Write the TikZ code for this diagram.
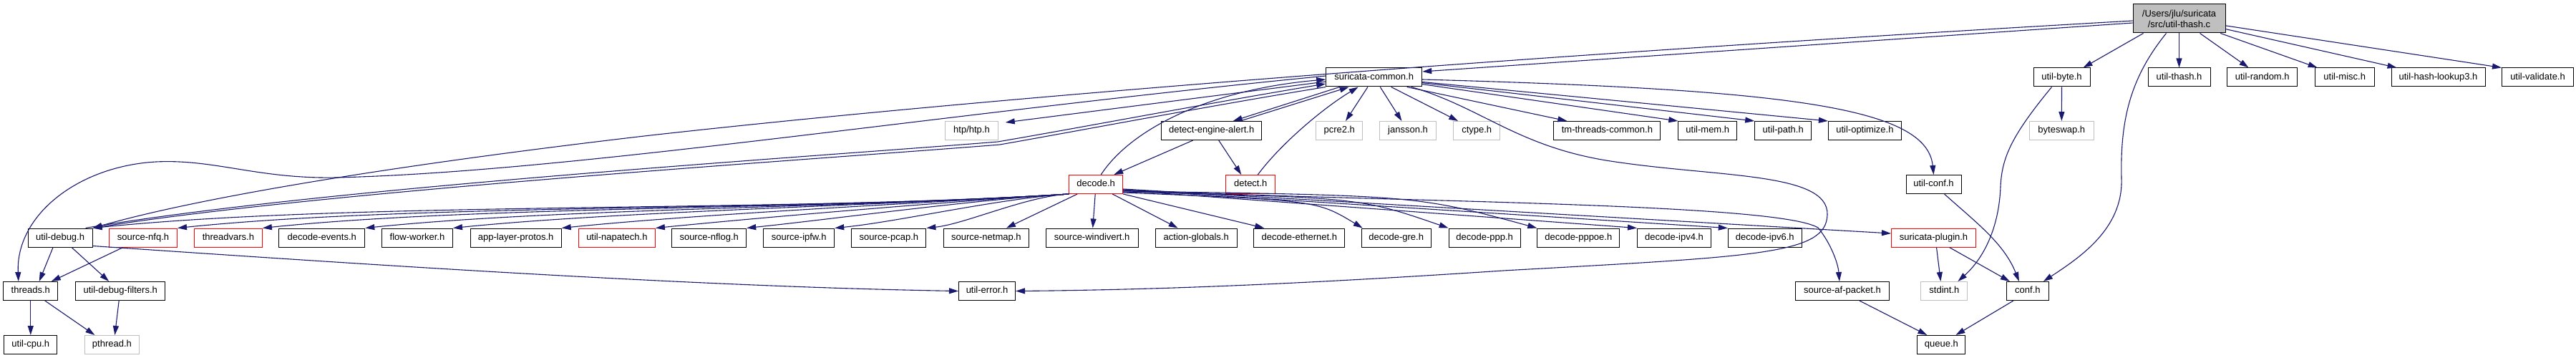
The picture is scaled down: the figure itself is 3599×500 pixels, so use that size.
\documentclass[tikz,border=0pt]{standalone}
\usepackage{fontspec}
\setmainfont{Liberation Sans}
\usetikzlibrary{arrows.meta}
\definecolor{edgeblue}{HTML}{191970}
\definecolor{rootgray}{HTML}{BFBFBF}
\definecolor{sysgray}{HTML}{BFBFBF}
\definecolor{truncred}{HTML}{FF0000}
\begin{document}
\begin{tikzpicture}[x=1pt,y=-1pt,
  box/.style={draw=black, line width=1pt, rectangle, inner sep=0pt, minimum height=26pt,
    font=\fontsize{13}{16}\selectfont, text height=9.4pt, text depth=2.6pt},
  graybox/.style={box, draw=sysgray},
  redbox/.style={box, draw=truncred},
  rootbox/.style={draw=black, fill=rootgray, line width=1pt, rectangle, inner sep=0pt,
    minimum width=129pt, minimum height=40pt, align=center, font=\fontsize{13}{15}\selectfont},
  edge/.style={draw=edgeblue, line width=1.1pt, -{Triangle[length=13pt,width=8pt]}},
]
\fill[white] (0,0) rectangle (3599,500);
\useasboundingbox (0,0) rectangle (3599,500);

% row 1
\node[rootbox] (root) at (3044.5,26) {/Users/jlu/suricata\\/src/util-thash.c};
% row 2
\node[box, minimum width=79pt] (ubyte) at (2880.5,108) {util-byte.h};
\node[box, minimum width=87pt] (uthash) at (3044.5,108) {util-thash.h};
\node[box, minimum width=98pt] (urandom) at (3160.7,108) {util-random.h};
\node[box, minimum width=83pt] (umisc) at (3275.7,108) {util-misc.h};
\node[box, minimum width=131pt] (uhash) at (3406.5,108) {util-hash-lookup3.h};
\node[box, minimum width=100pt] (uvalid) at (3545.5,108) {util-validate.h};
\node[box, minimum width=134pt] (scommon) at (1919.7,108) {suricata-common.h};
% row 3
\node[graybox, minimum width=73.5pt] (htp) at (1357.5,182.5) {htp/htp.h};
\node[box, minimum width=140pt] (dea) at (1692.7,182.5) {detect-engine-alert.h};
\node[graybox, minimum width=65pt] (pcre2) at (1871.2,182.5) {pcre2.h};
\node[graybox, minimum width=79pt] (jansson) at (1967,182.5) {jansson.h};
\node[graybox, minimum width=65pt] (ctype) at (2063.2,182.5) {ctype.h};
\node[box, minimum width=149pt] (tmthreads) at (2245.4,182.5) {tm-threads-common.h};
\node[box, minimum width=82pt] (umem) at (2385.8,182.5) {util-mem.h};
\node[box, minimum width=79pt] (upath) at (2491.2,182.5) {util-path.h};
\node[box, minimum width=102pt] (uopt) at (2605.4,182.5) {util-optimize.h};
\node[graybox, minimum width=89.5pt] (byteswap) at (2880.3,182.5) {byteswap.h};
% row 4
\node[redbox, minimum width=75pt] (decode) at (1531.2,257.5) {decode.h};
\node[redbox, minimum width=69pt] (detect) at (1747.3,257.5) {detect.h};
\node[box, minimum width=77pt] (uconf) at (2701.5,257.5) {util-conf.h};
% row 5
\node[box, minimum width=90pt] (udebug) at (84.1,332) {util-debug.h};
\node[redbox, minimum width=95pt] (srcnfq) at (200,332) {source-nfq.h};
\node[redbox, minimum width=95pt] (threadvars) at (318.9,332) {threadvars.h};
\node[box, minimum width=120pt] (decevents) at (449.8,332) {decode-events.h};
\node[box, minimum width=99pt] (flowworker) at (583,332) {flow-worker.h};
\node[box, minimum width=127pt] (applayer) at (720.7,332) {app-layer-protos.h};
\node[redbox, minimum width=107pt] (napatech) at (861.9,332) {util-napatech.h};
\node[box, minimum width=104pt] (srcnflog) at (990.7,332) {source-nflog.h};
\node[box, minimum width=99pt] (srcipfw) at (1116.2,332) {source-ipfw.h};
\node[box, minimum width=104pt] (srcpcap) at (1241.9,332) {source-pcap.h};
\node[box, minimum width=119pt] (srcnetmap) at (1377.9,332) {source-netmap.h};
\node[box, minimum width=129pt] (srcwin) at (1525.7,332) {source-windivert.h};
\node[box, minimum width=114pt] (actglob) at (1671.2,332) {action-globals.h};
\node[box, minimum width=127pt] (deceth) at (1815.3,332) {decode-ethernet.h};
\node[box, minimum width=97pt] (decgre) at (1950.7,332) {decode-gre.h};
\node[box, minimum width=100pt] (decppp) at (2074.1,332) {decode-ppp.h};
\node[box, minimum width=115pt] (decpppoe) at (2205.3,332) {decode-pppoe.h};
\node[box, minimum width=103pt] (decipv4) at (2339,332) {decode-ipv4.h};
\node[box, minimum width=103pt] (decipv6) at (2465.8,332) {decode-ipv6.h};
\node[redbox, minimum width=118pt] (splugin) at (2701.5,332) {suricata-plugin.h};
% row 6
\node[box, minimum width=76pt] (threads) at (42.8,406.5) {threads.h};
\node[box, minimum width=125pt] (udfilt) at (168.2,406.5) {util-debug-filters.h};
\node[box, minimum width=79pt] (uerror) at (1379,406.5) {util-error.h};
\node[box, minimum width=131pt] (safp) at (2573.9,406.5) {source-af-packet.h};
\node[graybox, minimum width=65pt] (stdint) at (2716.4,406.5) {stdint.h};
\node[box, minimum width=59pt] (conf) at (2832.9,406.5) {conf.h};
% row 7
\node[box, minimum width=74pt] (ucpu) at (42.8,481.5) {util-cpu.h};
\node[graybox, minimum width=76pt] (pthread) at (156.4,481.5) {pthread.h};
\node[box, minimum width=67pt] (queue) at (2712.4,481.5) {queue.h};

% ---- root edges
\draw[edge] ([xshift=-50pt]root.south) -- ([xshift=-10pt]ubyte.north east);
\draw[edge] (root) -- (uthash);
\draw[edge] (root) -- (urandom);
\draw[edge] (root) -- (umisc);
\draw[edge] (root) -- ([xshift=8pt]uhash.north west);
\draw[edge] (root) -- (uvalid.north west);
\draw[edge] ([xshift=-18pt]root.south) .. controls (2975,110) and (2962,170) .. (2964,250)
  .. controls (2966,320) and (2905,360) .. ([xshift=-8pt]conf.north east);
\draw[edge] ([yshift=-6pt]root.west) -- ([yshift=8pt]scommon.east);
\draw[edge] ([yshift=-3pt]root.west) .. controls (2000,85) and (1300,145) .. (900,190)
  .. controls (600,225) and (300,270) .. (udebug.north east);

% ---- util-byte
\draw[edge] (ubyte) -- (byteswap);
\draw[edge] ([xshift=-14pt]ubyte.south) .. controls (2810,190) and (2797,220) .. (2795,260)
  .. controls (2793,320) and (2770,362) .. ([xshift=-14pt]stdint.north east);

% ---- suricata-common
\draw[edge] (scommon) -- (pcre2);
\draw[edge] (scommon) -- (jansson);
\draw[edge] ([xshift=24pt]scommon.south) -- ([xshift=7pt]ctype.north west);
\draw[edge] ([xshift=46pt]scommon.south) -- ([xshift=19pt]tmthreads.north west);
\draw[edge] (scommon) -- (umem.north west);
\draw[edge] (scommon) -- (upath.north west);
\draw[edge] (scommon) -- (uopt.north west);
\draw[edge] ([yshift=-3pt]scommon.east) .. controls (2500,125) and (2692,150) .. (uconf.north);
\draw[edge] ([yshift=-6pt]scommon.west) -- ([xshift=10pt,yshift=-2pt]htp.north east);
\draw[edge] ([xshift=-48pt]scommon.south) -- ([xshift=30pt]dea.north);
\draw[edge] ([xshift=40pt]dea.north) -- ([xshift=-35pt]scommon.south);
\draw[edge] ([xshift=52pt]scommon.south) .. controls (2070,150) and (2120,205) .. (2250,225)
  .. controls (2400,248) and (2555,240) .. (2553,300)
  .. controls (2551,355) and (2460,358) .. (2100,378)
  .. controls (1800,398) and (1600,405) .. (uerror.east);
\draw[edge] ([yshift=2pt]scommon.west) .. controls (1300,160) and (800,240) .. (470,248)
  .. controls (360,250) and (300,222) .. (218,226)
  .. controls (110,232) and (22,300) .. ([xshift=-17pt]threads.north);
\draw[edge] ([xshift=-10pt]udebug.north east) .. controls (450,262) and (1150,218) .. (1394,198)
  .. controls (1500,180) and (1700,142) .. ([yshift=-9pt]scommon.west);
\draw[edge] (scommon.south west) .. controls (1700,146) and (1500,184) .. (1397,202)
  .. controls (1150,222) and (460,266) .. (udebug.north east);

% ---- detect-engine-alert, detect, decode up
\draw[edge] ([xshift=-26pt]dea.south) -- ([xshift=25pt]decode.north);
\draw[edge] ([xshift=10pt]dea.south) -- ([xshift=-13pt]detect.north);
\draw[edge] ([xshift=10pt]detect.north) .. controls (1790,200) and (1850,150) .. ([xshift=-22pt]scommon.south);
\draw[edge] ([xshift=7pt]decode.north) .. controls (1580,180) and (1690,125) .. ([yshift=-3pt]scommon.west);

% ---- decode to the left
\draw[edge] (decode.south west) .. controls (1084,297) and (498,281) .. (udebug.north east);
\draw[edge] (decode.south west) .. controls (1120,295) and (584,284) .. (srcnfq.north east);
\draw[edge] (decode.south west) .. controls (1156,293) and (671,287) .. (threadvars.north east);
\draw[edge] (decode.south west) .. controls (1199,290) and (776,291) .. (decevents.north east);
\draw[edge] (decode.south west) .. controls (1236,287) and (865,295) .. (flowworker.north east);
\draw[edge] (decode.south west) .. controls (1281,284) and (976,299) .. (applayer.north east);
\draw[edge] (decode.south west) .. controls (1320,282) and (1072,303) .. (napatech.north east);
\draw[edge] (decode.south west) .. controls (1359,279) and (1164,306) .. (srcnflog.north east);
\draw[edge] (decode.south west) .. controls (1396,277) and (1254,310) .. (srcipfw.north east);
\draw[edge] (decode.south west) .. controls (1434,274) and (1348,313) .. (srcpcap.north east);
% ---- decode below and to the right
\draw[edge] ([xshift=12pt]decode.south west) -- ([xshift=-32pt]srcnetmap.north east);
\draw[edge] (decode) -- (srcwin);
\draw[edge] ([xshift=-15pt]decode.south east) -- ([xshift=32pt]actglob.north west);
\draw[edge] (decode.south east) -- ([xshift=15pt]deceth.north west);
\draw[edge] ([yshift=2pt]decode.south east) .. controls (1840,280) .. ([xshift=2pt]decgre.north west);
\draw[edge] ([yshift=3pt]decode.south east) .. controls (1900,276) .. (decppp.north west);
\draw[edge] ([yshift=4pt]decode.south east) .. controls (1980,273) .. (decpppoe.north west);
\draw[edge] ([yshift=5pt]decode.south east) -- (decipv4.north west);
\draw[edge] ([yshift=6pt]decode.south east) -- (decipv6.north west);
\draw[edge] ([yshift=7pt]decode.south east) -- ([yshift=6pt]splugin.west);
\draw[edge] ([yshift=6pt]decode.south east) .. controls (1900,282) and (2480,282) .. (2540,318)
  .. controls (2558,340) and (2568,368) .. ([xshift=-4pt]safp.north);

% ---- lower left
\draw[edge] ([xshift=-10pt]udebug.south) -- ([xshift=12pt]threads.north);
\draw[edge] ([xshift=16pt]udebug.south) -- ([xshift=-16pt]udfilt.north);
\draw[edge] ([yshift=2pt]udebug.south east) .. controls (450,365) and (950,400) .. (uerror.west);
\draw[edge] ([xshift=-28pt]srcnfq.south) -- ([xshift=29pt]threads.north);
\draw[edge] (threads) -- (ucpu);
\draw[edge] ([xshift=20pt]threads.south) -- ([xshift=-24pt]pthread.north);
\draw[edge] ([xshift=-2pt]udfilt.south) -- ([xshift=4pt]pthread.north);

% ---- lower right
\draw[edge] ([xshift=4pt]splugin.south) -- ([xshift=-5pt]stdint.north);
\draw[edge] ([xshift=22pt]splugin.south) -- ([xshift=-25pt]conf.north);
\draw[edge] ([xshift=15pt]uconf.south) .. controls (2760,310) and (2800,340) .. ([xshift=-12pt]conf.north);
\draw[edge] ([xshift=-20pt]conf.south) -- ([xshift=20pt]queue.north);
\draw[edge] ([xshift=24pt]safp.south) -- ([xshift=-20pt]queue.north);
\end{tikzpicture}
\end{document}
